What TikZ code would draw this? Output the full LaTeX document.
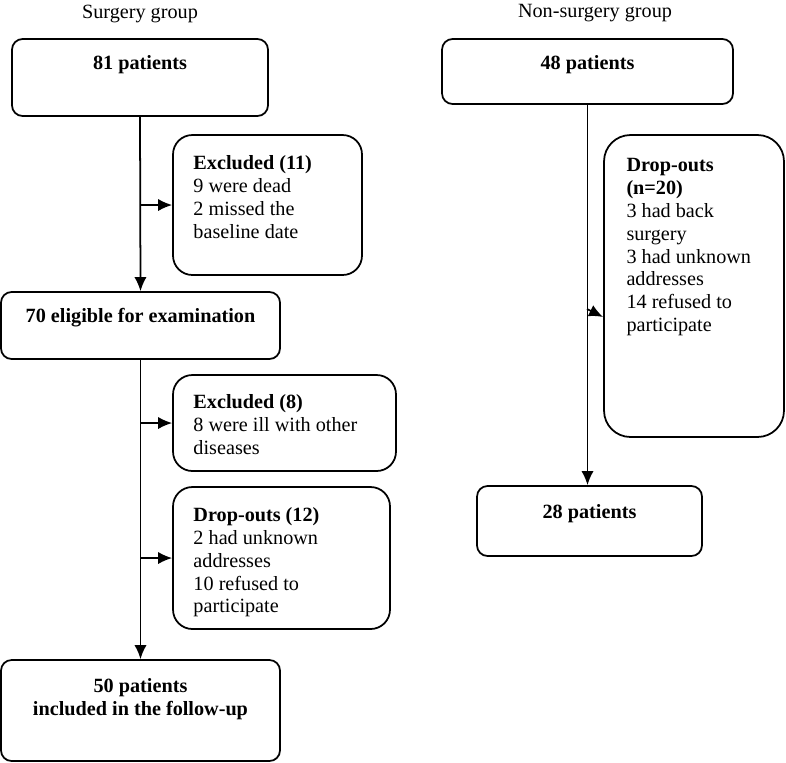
\documentclass[tikz,border=0pt]{standalone}
\usepackage{fontspec}
\setmainfont{Liberation Serif}
\usetikzlibrary{arrows.meta,positioning,calc}

\begin{document}
\begin{tikzpicture}[x=0.02cm,y=-0.02cm,
	box/.style={draw,rounded corners=6pt,line width=1pt,inner sep=0pt},
	sidebox/.style={box,rounded corners=11pt},
	txt/.style={inner sep=0pt,align=left,font=\fontsize{11.5}{13}\selectfont},
	hd/.style={inner sep=0pt,align=center,font=\fontsize{11.5}{13}\selectfont\bfseries},
	link/.style={line width=1pt},
	>={Latex[length=8pt,width=7pt]}]
	\useasboundingbox (0,0) rectangle (786,762);

	% group titles
	\node[txt] at (140,14) (sg) {Surgery group};
	\node[txt] at (595,13) (nsg) {Non-surgery group};

	% surgery group
	\node[box,minimum width=5.12cm,minimum height=1.54cm] at (140,77.5) (b81) {};
	\node[hd,below=0.34cm of b81.north] (t81) {81 patients};

	\node[sidebox,minimum width=3.78cm,minimum height=2.8cm] at (267.5,205) (ex11) {};
	\node[txt,below right=0.42cm and 0.42cm of ex11.north west] (tex11)
		{\textbf{Excluded (11)}\\9 were dead\\2 missed the\\baseline date};

	\node[box,minimum width=5.58cm,minimum height=1.34cm] at (140.5,325.5) (b70) {};
	\node[hd,below=0.34cm of b70.north] (t70) {70 eligible for examination};

	\node[sidebox,minimum width=4.46cm,minimum height=1.92cm] at (284.5,423) (ex8) {};
	\node[txt,below right=0.4cm and 0.42cm of ex8.north west] (tex8)
		{\textbf{Excluded (8)}\\8 were ill with other\\diseases};

	\node[sidebox,minimum width=4.34cm,minimum height=2.84cm] at (281.5,558) (dr12) {};
	\node[txt,below right=0.42cm and 0.42cm of dr12.north west] (tdr12)
		{\textbf{Drop-outs (12)}\\2 had unknown\\addresses\\10 refused to\\participate};

	\node[box,minimum width=5.58cm,minimum height=2.02cm] at (140.5,710.5) (b50) {};
	\node[hd,below=0.38cm of b50.north] (t50) {50 patients\\included in the follow-up};

	% non-surgery group
	\node[box,minimum width=5.82cm,minimum height=1.3cm] at (587.5,71.5) (b48) {};
	\node[hd,below=0.34cm of b48.north] (t48) {48 patients};

	\node[box,rounded corners=15pt,minimum width=3.6cm,minimum height=6.04cm] at (694,286) (dr20) {};
	\node[txt,below right=0.48cm and 0.46cm of dr20.north west] (tdr20)
		{\textbf{Drop-outs}\\\textbf{(n=20)}\\3 had back\\surgery\\3 had unknown\\addresses\\14 refused to\\participate};

	\node[box,minimum width=4.5cm,minimum height=1.4cm] at (589.5,521) (b28) {};
	\node[hd,below=0.38cm of b28.north] (t28) {28 patients};

	% connectors
	\coordinate (j11) at (b81.south |- ex11.west);
	\coordinate (j8) at (b70.south |- ex8.west);
	\coordinate (j12) at (b70.south |- dr12.west);
	\coordinate (j20) at (587,309);
	\draw[link,->] (b81.south) -- (b70.north);
	\draw[link,->] (j11) -- (ex11.west);
	\draw[link,->] (b70.south) -- (b50.north);
	\draw[link,->] (j8) -- (ex8.west);
	\draw[link,->] (j12) -- (dr12.west);
	\draw[link,->] (b48.south) -- (b48.south |- b28.north);
	\draw[link,->] (j20) -- ([yshift=-0.62cm]dr20.west);
\end{tikzpicture}
\end{document}
